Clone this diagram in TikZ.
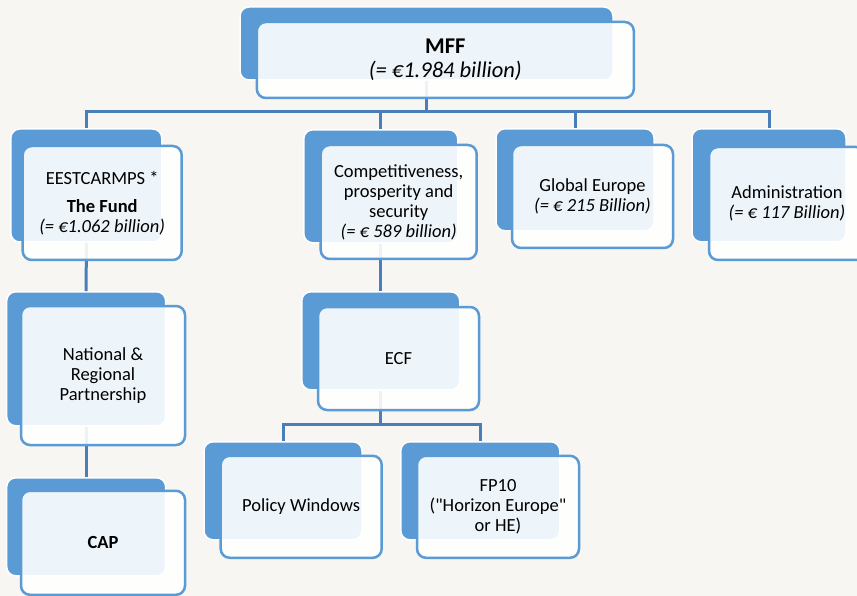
\documentclass[tikz,border=0pt]{standalone}
\usepackage{fontspec}
\setmainfont{Carlito}
\newfontfamily\plainq{Carlito}
\definecolor{bgc}{HTML}{F7F6F2}
\definecolor{boxblue}{HTML}{5B9BD5}
\definecolor{linec}{HTML}{4A7EBB}
\tikzset{
  backbox/.style={draw=white, line width=1.5pt, fill=boxblue, rounded corners=9pt, inner sep=0pt},
  frontbox/.style={draw=boxblue, line width=2.5pt, fill=white, fill opacity=0.9, text opacity=1,
    rounded corners=9pt, inner sep=0pt, align=center, font=\fontsize{18.5}{20}\selectfont},
  conn/.style={draw=linec, line width=3pt},
}
\begin{document}
\begin{tikzpicture}[x=1pt,y=-1pt]
\fill[bgc] (0,0) rectangle (857,596);
\useasboundingbox (0,0) rectangle (857,596);
% back boxes
\node[backbox, minimum width=373pt, minimum height=73pt] (mffB) at (426.5,43.5) {};
\node[backbox, minimum width=151pt, minimum height=113pt] (eestB) at (86.3,185.5) {};
\node[backbox, minimum width=154pt, minimum height=113pt] (compB) at (380.8,186.3) {};
\node[backbox, minimum width=158pt, minimum height=102pt] (globB) at (575,179.8) {};
\node[backbox, minimum width=154pt, minimum height=113pt] (adminB) at (769,185.3) {};
\node[backbox, minimum width=159pt, minimum height=134pt] (natB) at (86.2,358.8) {};
\node[backbox, minimum width=159pt, minimum height=98pt] (capB) at (86.2,526.8) {};
\node[backbox, minimum width=158pt, minimum height=98pt] (ecfB) at (380.8,340.8) {};
\node[backbox, minimum width=158pt, minimum height=98pt] (polB) at (283,490.8) {};
\node[backbox, minimum width=159pt, minimum height=98pt] (fpB) at (480.3,490.8) {};
% connectors
\coordinate (bus1) at (0,112);
\coordinate (bus2) at (0,424);
\foreach \c in {eestB,compB,globB,adminB}
  \draw[conn] (mffB.south) -- (mffB.south |- bus1) -| (\c.north);
\draw[conn] (eestB.south) -- (natB.north);
\draw[conn] (natB.south) -- (capB.north);
\draw[conn] (compB.south) -- (ecfB.north);
\foreach \c in {polB,fpB}
  \draw[conn] (ecfB.south) -- (ecfB.south |- bus2) -| (\c.north);
% front boxes
\node[frontbox, minimum width=377pt, minimum height=76pt, font=\fontsize{22.5}{24}\selectfont] (mff) at (445.3,60)
  {\textbf{MFF}\\ \textit{(= €1.984 billion)}};
\node[frontbox, minimum width=159pt, minimum height=114pt] (eest) at (102.2,203)
  {EESTCARMPS *\\[8pt] \textbf{The Fund}\\ \textit{(= €1.062 billion)}};
\node[frontbox, minimum width=156pt, minimum height=114pt] (comp) at (398.7,202)
  {Competitiveness,\\ prosperity and\\ security\\ \textit{(= € 589 billion)}};
\node[frontbox, minimum width=161pt, minimum height=103pt] (glob) at (592.5,196.5)
  {Global Europe\\ \textit{(= € 215 Billion)}};
\node[frontbox, minimum width=156pt, minimum height=113pt] (admin) at (787,203.5)
  {Administration\\ \textit{(= € 117 Billion)}};
\node[frontbox, minimum width=164pt, minimum height=139pt] (nat) at (103,375.5)
  {National \&\\ Regional\\ Partnership};
\node[frontbox, minimum width=164pt, minimum height=104pt] (cap) at (103,542.8)
  {\textbf{CAP}};
\node[frontbox, minimum width=161pt, minimum height=103pt] (ecf) at (398.5,358.5)
  {ECF};
\node[frontbox, minimum width=161pt, minimum height=102pt] (pol) at (301.2,506.8)
  {Policy Windows};
\node[frontbox, minimum width=162pt, minimum height=102pt] (fp) at (498,506.8)
  {FP10\\ ({\plainq"}Horizon Europe{\plainq"}\\ or HE)};
\end{tikzpicture}
\end{document}
